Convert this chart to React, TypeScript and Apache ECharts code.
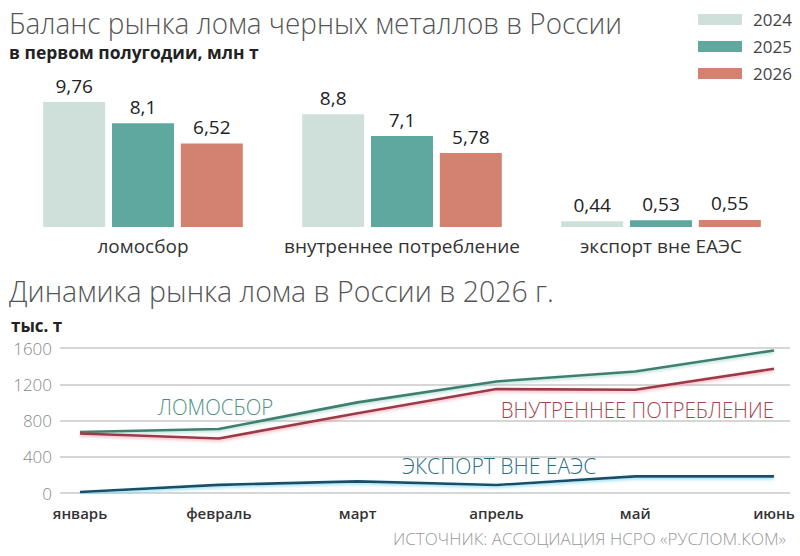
import React, { useEffect, useRef } from "react";
import * as echarts from "echarts";

const categories = ["ломосбор", "внутреннее потребление", "экспорт вне ЕАЭС"];
const years = ["2024", "2025", "2026"];
const values2024 = [9.76, 8.8, 0.44];
const values2025 = [8.1, 7.1, 0.53];
const values2026 = [6.52, 5.78, 0.55];

const months = ["январь", "февраль", "март", "апрель", "май", "июнь"];
const scrapCollection = [673, 706, 1000, 1231, 1341, 1573];
const domesticUse = [657, 602, 880, 1147, 1139, 1371];
const exportNonEaeu = [11, 90, 128, 88, 183, 183];
const lineTicks = { min: 0, max: 1600, interval: 400 };

const title1 = "Баланс рынка лома черных металлов в России";
const subtitle1 = "в первом полугодии, млн т";
const title2 = "Динамика рынка лома в России в 2026 г.";
const unit2 = "тыс. т";
const source = "ИСТОЧНИК: АССОЦИАЦИЯ НСРО «РУСЛОМ.КОМ»";
const seriesNames = ["ЛОМОСБОР", "ВНУТРЕННЕЕ ПОТРЕБЛЕНИЕ", "ЭКСПОРТ ВНЕ ЕАЭС"];

const FONT = "'Open Sans', 'Noto Sans', sans-serif";
const barColors = ["#cfe0da", "#5ea89f", "#d3826f"];

export default function App() {
  const ref = useRef<HTMLDivElement>(null);
  useEffect(() => {
    if (!ref.current) return;
    const chart = echarts.init(ref.current, undefined, { renderer: "svg" });
    const fmt = (p: any) => String(p.value).replace(".", ",");
    const barSeries = [values2024, values2025, values2026].map((vals, i) => ({
      type: "bar",
      name: years[i],
      xAxisIndex: 0,
      yAxisIndex: 0,
      data: vals,
      barWidth: 62,
      barGap: "11%",
      itemStyle: { color: barColors[i] },
      label: {
        show: true,
        position: "top",
        distance: 7,
        formatter: fmt,
        fontFamily: FONT,
        fontSize: 19,
        fontWeight: 500,
        color: "#222",
      },
    }));
    const lineDefs = [
      { data: scrapCollection, color: "#3f7f70", glow: "rgba(120,200,180,0.6)" },
      { data: domesticUse, color: "#9c3a47", glow: "rgba(240,140,160,0.7)" },
      { data: exportNonEaeu, color: "#1f4e68", glow: "rgba(110,210,235,0.8)" },
    ];
    const lineSeries = lineDefs.map((d, i) => ({
      type: "line",
      name: seriesNames[i],
      xAxisIndex: 2,
      yAxisIndex: 2,
      data: d.data,
      symbol: "none",
      lineStyle: {
        color: d.color,
        width: 2.6,
        shadowColor: d.glow,
        shadowBlur: 3,
        shadowOffsetY: 1.5,
      },
    }));
    const text = (
      t: string,
      x: number,
      y: number,
      size: number,
      color: string,
      weight: any = "normal",
      align: any = "left",
      scaleX = 1
    ) => ({
      type: "text",
      x,
      y,
      scaleX,
      style: {
        text: t,
        fontFamily: FONT,
        fontSize: size,
        fontWeight: weight,
        fill: color,
        align,
        verticalAlign: "middle",
      },
    });
    chart.setOption({
      animation: false,
      backgroundColor: "#ffffff",
      legend: {
        data: years,
        orient: "vertical",
        left: 693,
        top: 6,
        itemWidth: 44,
        itemHeight: 11,
        itemGap: 10,
        icon: "rect",
        textStyle: {
          fontFamily: FONT,
          fontSize: 17,
          color: "#444",
          padding: [0, 0, 0, 6],
        },
      },
      grid: [
        { left: 13.5, right: 9.5, top: 99, height: 128 },
        { left: 60, right: 10, top: 348, height: 145 },
        { left: 80, right: 26, top: 348, height: 145 },
      ],
      xAxis: [
        {
          type: "category",
          gridIndex: 0,
          data: categories,
          axisLine: { show: false },
          axisTick: { show: false },
          axisLabel: {
            margin: 9,
            interval: 0,
            fontFamily: FONT,
            fontSize: 19,
            color: "#333",
          },
        },
        {
          type: "category",
          gridIndex: 1,
          data: months,
          show: false,
        },
        {
          type: "category",
          gridIndex: 2,
          data: months,
          boundaryGap: false,
          axisLine: { show: false },
          axisTick: { show: false },
          axisLabel: {
            margin: 12,
            fontFamily: FONT,
            fontSize: 15,
            fontWeight: 600,
            color: "#333",
            interval: 0,
          },
        },
      ],
      yAxis: [
        { type: "value", gridIndex: 0, min: 0, max: 10, show: false },
        {
          type: "value",
          gridIndex: 1,
          ...lineTicks,
          axisLine: { show: false },
          axisTick: { show: false },
          axisLabel: {
            margin: 8,
            fontFamily: FONT,
            fontSize: 17,
            fontWeight: 300,
            color: "#888",
            formatter: (v: number) => String(v),
          },
          splitLine: { lineStyle: { color: "#c9c9c9", width: 1.5 } },
        },
        {
          type: "value",
          gridIndex: 2,
          ...lineTicks,
          show: false,
          splitLine: { show: false },
        },
      ],
      series: [...barSeries, ...lineSeries],
      graphic: [
        text(title1, 9, 22, 30, "#555", 300, "left", 0.93),
        text(subtitle1, 9, 52, 18, "#222", "bold", "left", 0.97),
        text(title2, 9, 291, 30, "#555", 300, "left", 0.95),
        text(unit2, 11, 325, 17, "#222", "bold"),
        text(seriesNames[0], 158, 406, 22, "#4f8f82", 300, "left", 0.93),
        text(seriesNames[1], 774, 409, 22, "#a4444e", 300, "right", 0.93),
        text(seriesNames[2], 402, 465, 22, "#2a6f86", 300, "left", 0.96),
        text(source, 786, 538, 17, "#999", 300, "right", 1.0),
      ],
    });
    return () => chart.dispose();
  }, []);
  return (
    <div
      ref={ref}
      style={{ position: "fixed", left: 0, top: 0, width: 800, height: 556 }}
    />
  );
}
